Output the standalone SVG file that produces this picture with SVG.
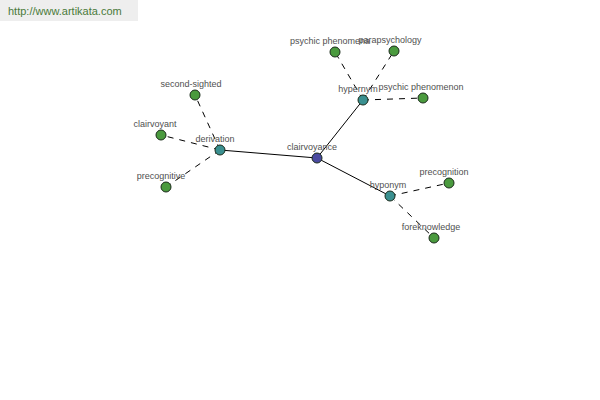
<svg xmlns="http://www.w3.org/2000/svg" width="600" height="400" viewBox="0 0 600 400">
<style>
text{font-family:"Liberation Sans",Arial,sans-serif;font-size:9px;fill:#505050;text-anchor:middle}
.hdr{font-size:11px;fill:#4a7a3a;text-anchor:start}
.s{stroke:#000;stroke-width:1;fill:none}
.d{stroke:#000;stroke-width:1;fill:none;stroke-dasharray:6,6}
circle{stroke:#1a2a1a;stroke-width:1}
.root{fill:#4a4aa0}
.rel{fill:#3a9090}
.leaf{fill:#4a9a3e}
</style>
<rect x="0" y="0" width="138" height="21" fill="#eeeeee"/>
<text class="hdr" x="8" y="15">http://www.artikata.com</text>
<g id="connectors">
<line class="s" x1="317" y1="158" x2="220" y2="150"/>
<line class="s" x1="317" y1="158" x2="363" y2="100"/>
<line class="s" x1="317" y1="158" x2="390" y2="196"/>
<line class="d" x1="220" y1="150" x2="195" y2="95"/>
<line class="d" x1="220" y1="150" x2="161" y2="135"/>
<line class="d" x1="220" y1="150" x2="166" y2="187"/>
<line class="d" x1="363" y1="100" x2="335" y2="52"/>
<line class="d" x1="363" y1="100" x2="394" y2="51"/>
<line class="d" x1="363" y1="100" x2="423" y2="98"/>
<line class="d" x1="390" y1="196" x2="449" y2="183"/>
<line class="d" x1="390" y1="196" x2="434" y2="238"/>
</g>
<g id="clairvoyance"><circle class="root" cx="317" cy="158" r="5"/><text x="312" y="150">clairvoyance</text></g>
<g id="derivation"><circle class="rel" cx="220" cy="150" r="5"/><text x="215" y="142">derivation</text></g>
<g id="second-sighted"><circle class="leaf" cx="195" cy="95" r="5"/><text x="191" y="87">second-sighted</text></g>
<g id="clairvoyant"><circle class="leaf" cx="161" cy="135" r="5"/><text x="155" y="127">clairvoyant</text></g>
<g id="precognitive"><circle class="leaf" cx="166" cy="187" r="5"/><text x="161" y="179">precognitive</text></g>
<g id="hypernym"><circle class="rel" cx="363" cy="100" r="5"/><text x="358" y="92">hypernym</text></g>
<g id="psychic-phenomena"><circle class="leaf" cx="335" cy="52" r="5"/><text x="330" y="44">psychic phenomena</text></g>
<g id="parapsychology"><circle class="leaf" cx="394" cy="51" r="5"/><text x="390" y="43">parapsychology</text></g>
<g id="psychic-phenomenon"><circle class="leaf" cx="423" cy="98" r="5"/><text x="421" y="90">psychic phenomenon</text></g>
<g id="hyponym"><circle class="rel" cx="390" cy="196" r="5"/><text x="388" y="188">hyponym</text></g>
<g id="precognition"><circle class="leaf" cx="449" cy="183" r="5"/><text x="444" y="175">precognition</text></g>
<g id="foreknowledge"><circle class="leaf" cx="434" cy="238" r="5"/><text x="431" y="230">foreknowledge</text></g>
</svg>
